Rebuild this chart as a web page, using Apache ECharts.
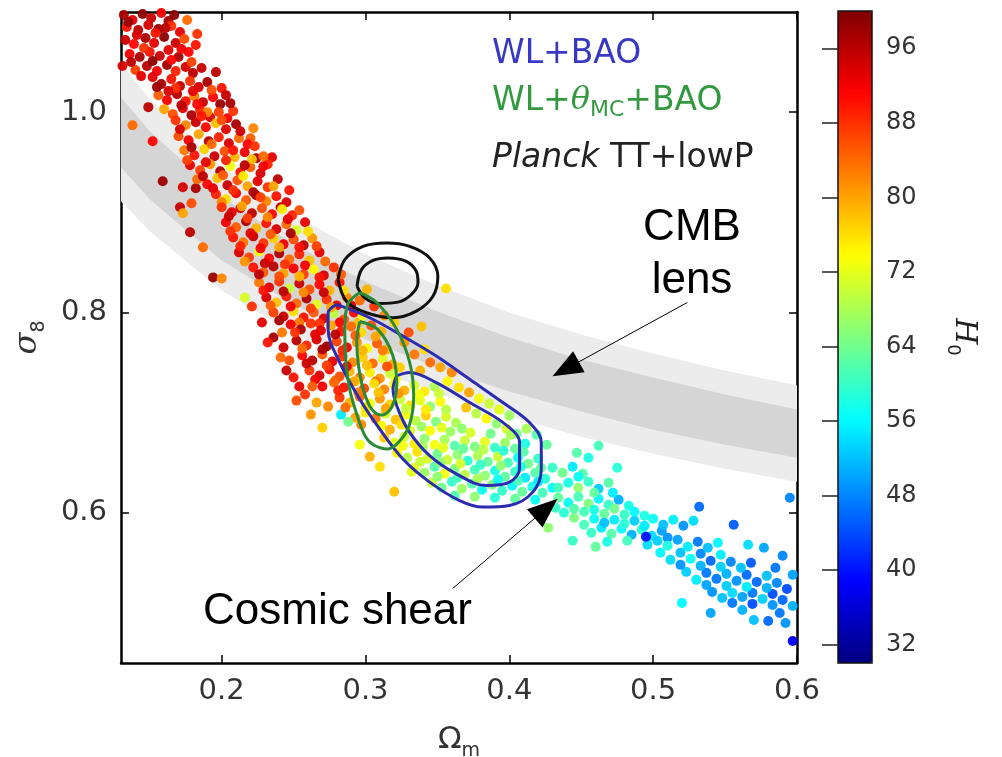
<!DOCTYPE html>
<html>
<head>
<meta charset="utf-8">
<script src="https://cdn.jsdelivr.net/npm/echarts@6/dist/echarts.min.js"></script>
<style>
  html, body { margin: 0; padding: 0; background: #fff; }
  #main { width: 1002px; height: 757px; }
</style>
</head>
<body>
<div id="main"></div>
<script>
// ---- axis ticks ----
const xTicks = [0.2, 0.3, 0.4, 0.5, 0.6];
const yTicks = [0.6, 0.8, 1.0];
const h0Ticks = [32, 40, 48, 56, 64, 72, 80, 88, 96];

// ---- CMB lensing band (sigma8 edges at each Omega_m) ----
const bandX        = [0.13, 0.15, 0.2, 0.25, 0.3, 0.35, 0.4, 0.45, 0.5, 0.55, 0.6];
const lensOuterTop = [1.049, 1.013, 0.946, 0.897, 0.858, 0.827, 0.800, 0.778, 0.759, 0.742, 0.727];
const lensInnerTop = [1.015, 0.981, 0.916, 0.868, 0.831, 0.801, 0.775, 0.753, 0.735, 0.718, 0.703];
const lensInnerBot = [0.945, 0.913, 0.852, 0.808, 0.773, 0.745, 0.721, 0.701, 0.683, 0.668, 0.655];
const lensOuterBot = [0.911, 0.881, 0.822, 0.779, 0.746, 0.719, 0.696, 0.676, 0.659, 0.644, 0.631];

// ---- contours [Omega_m, sigma8] ----
const planckOuter = [[0.2809,0.8328],[0.2856,0.8527],[0.2983,0.866],[0.3145,0.8694],[0.3307,0.866],[0.3446,0.8544],[0.3503,0.8361],[0.3469,0.8162],[0.3353,0.8013],[0.3191,0.7947],[0.3006,0.7997],[0.2867,0.8112],[0.2809,0.8328]];
const planckInner = [[0.2941,0.8262],[0.2972,0.8428],[0.3052,0.852],[0.3156,0.8544],[0.3284,0.851],[0.3353,0.8411],[0.3365,0.8296],[0.3319,0.8179],[0.3226,0.8103],[0.3099,0.809],[0.2994,0.8146],[0.2941,0.8262]];
const wlBaoOuter = [[0.2798,0.808],[0.3029,0.7947],[0.326,0.7764],[0.3492,0.7565],[0.3724,0.7333],[0.3955,0.7101],[0.414,0.6902],[0.4222,0.6703],[0.4222,0.6438],[0.4163,0.6206],[0.4001,0.6073],[0.3816,0.6057],[0.3654,0.6122],[0.3446,0.6306],[0.326,0.6537],[0.3099,0.6836],[0.296,0.7134],[0.2821,0.75],[0.274,0.7831],[0.274,0.7997],[0.2798,0.808]];
const wlBaoInner = [[0.3215,0.7366],[0.3307,0.74],[0.3492,0.73],[0.3724,0.7101],[0.3955,0.6902],[0.4071,0.6703],[0.4071,0.6438],[0.4001,0.6306],[0.384,0.6272],[0.3631,0.6388],[0.3446,0.657],[0.3307,0.6803],[0.3226,0.7035],[0.3191,0.7234],[0.3215,0.7366]];
const wlThetaOuter = [[0.296,0.8199],[0.3078,0.81],[0.3217,0.7831],[0.3307,0.7502],[0.3335,0.7164],[0.3307,0.6886],[0.3238,0.6716],[0.3154,0.6637],[0.3057,0.6677],[0.3001,0.6756],[0.2946,0.6955],[0.289,0.7234],[0.2863,0.7532],[0.2856,0.7831],[0.2876,0.808],[0.296,0.8199]];
const wlThetaInner = [[0.296,0.791],[0.3085,0.7831],[0.3189,0.7572],[0.3217,0.7284],[0.3182,0.7055],[0.3113,0.6975],[0.3043,0.7035],[0.2988,0.7214],[0.2953,0.7453],[0.2939,0.7711],[0.296,0.791]];

// ---- arrows [from, to] ----
const arrowLens  = [[0.5238, 0.810], [0.4392, 0.7435]];
const arrowShear = [[0.3606, 0.5244], [0.4256, 0.6042]];

// ---- samples [Omega_m, sigma8, H0] ----
const ptsTop = [[0.132,1.097,97],[0.138,1.092,93],[0.145,1.098,99],[0.151,1.094,95],[0.158,1.099,92],[0.163,1.091,97],[0.134,1.085,90],[0.142,1.082,96],[0.149,1.087,94],[0.156,1.083,98],[0.165,1.086,88],[0.171,1.08,93],[0.133,1.072,95],[0.139,1.068,91],[0.147,1.074,97],[0.153,1.069,93],[0.16,1.075,99],[0.168,1.069,95],[0.174,1.073,86],[0.136,1.058,92],[0.143,1.055,97],[0.15,1.06,90],[0.157,1.056,95],[0.163,1.062,93],[0.17,1.055,97],[0.177,1.06,91],[0.131,1.046,94],[0.14,1.042,87],[0.148,1.046,96],[0.155,1.041,92],[0.162,1.047,98],[0.168,1.041,89],[0.175,1.045,94],[0.18,1.039,96],[0.176,1.092,84],[0.183,1.078,88],
  [0.135,1.09,98],[0.141,1.077,94],[0.154,1.079,90],[0.161,1.084,96],[0.167,1.097,99],[0.172,1.063,92],[0.146,1.064,88],[0.137,1.05,96],[0.152,1.051,99],[0.165,1.052,91],[0.179,1.05,87],[0.144,1.036,93],[0.186,1.044,95],[0.182,1.067,90],
  [0.152,1.035,93],[0.158,1.028,97],[0.165,1.033,90],[0.171,1.026,95],[0.178,1.031,88],[0.184,1.025,94],[0.19,1.03,97],[0.156,1.017,85],[0.162,1.012,92],[0.169,1.018,96],[0.175,1.011,90],[0.181,1.016,83],[0.187,1.01,95],[0.194,1.015,91],[0.199,1.008,98],[0.16,1.003,80],[0.166,0.998,86],[0.173,1.004,93],[0.179,0.997,97],[0.185,1.002,89],[0.192,0.995,94],[0.198,1.0,87],[0.204,0.994,92],[0.2,1.024,90],[0.196,1.04,96],
  [0.155,1.025,98],[0.168,1.024,88],[0.18,1.021,93],[0.193,1.022,86],[0.172,1.007,96],[0.183,1.008,91],[0.19,1.0,82],[0.203,1.017,95],[0.208,1.001,88],[0.163,1.021,94],
  [0.149,1.005,96],[0.138,0.987,84],[0.152,0.971,91],[0.206,1.009,97],[0.159,0.931,98],[0.173,0.925,94],[0.182,0.924,97],[0.171,0.905,95],[0.179,0.909,86],[0.173,0.899,80],[0.235,0.955,93],[0.222,0.984,82],[0.22,0.974,85],[0.224,0.954,97]];
const ptsUpper = [[0.168,0.992,88],[0.175,0.987,82],[0.182,0.99,95],[0.189,0.985,91],[0.196,0.989,78],[0.203,0.983,93],[0.21,0.988,97],[0.17,0.976,86],[0.177,0.972,92],[0.184,0.978,80],[0.191,0.971,96],[0.198,0.975,89],[0.205,0.969,94],[0.212,0.974,84],[0.218,0.968,91],[0.174,0.962,83],[0.181,0.957,90],[0.188,0.963,77],[0.195,0.956,95],[0.202,0.961,86],[0.209,0.955,79],[0.216,0.96,92],[0.223,0.966,88],[0.178,0.947,93],[0.185,0.942,87],[0.192,0.948,81],[0.199,0.941,97],[0.206,0.946,73],[0.213,0.94,90],[0.22,0.945,85],[0.227,0.939,94],[0.232,0.948,89],[0.183,0.933,84],[0.19,0.928,91],[0.197,0.934,78],[0.204,0.927,95],[0.211,0.932,86],[0.218,0.926,80],[0.225,0.931,93],[0.232,0.925,88],[0.239,0.933,96],[0.196,0.918,89],[0.203,0.913,76],[0.21,0.919,92],[0.217,0.912,85],[0.224,0.917,97],[0.231,0.911,82],[0.238,0.916,90],[0.245,0.91,94],
  [0.171,0.983,94],[0.186,0.996,90],[0.2,0.992,86],[0.213,0.981,95],[0.179,0.965,97],[0.193,0.968,84],[0.208,0.962,90],[0.221,0.953,78],[0.176,0.952,87],[0.189,0.95,93],[0.203,0.952,89],[0.216,0.947,96],[0.229,0.956,84],[0.187,0.936,96],[0.201,0.937,85],[0.215,0.936,75],[0.229,0.946,92],[0.194,0.924,93],[0.208,0.922,88],[0.222,0.92,97],[0.236,0.926,80],[0.2,0.91,82],[0.213,0.904,94],[0.227,0.915,87],[0.241,0.905,96],[0.247,0.922,90],
  [0.2,0.905,88],[0.207,0.9,93],[0.214,0.906,80],[0.221,0.899,96],[0.228,0.904,86],[0.235,0.898,91],[0.242,0.903,75],[0.249,0.897,89],[0.203,0.89,92],[0.21,0.885,85],[0.217,0.891,97],[0.224,0.884,79],[0.231,0.889,90],[0.238,0.883,94],[0.245,0.888,84],[0.252,0.882,71],[0.258,0.89,93],[0.208,0.875,90],[0.215,0.87,83],[0.222,0.876,95],[0.229,0.869,88],[0.236,0.874,77],[0.243,0.868,92],[0.25,0.873,86],[0.257,0.867,96],[0.263,0.874,81],[0.212,0.86,94],[0.219,0.855,87],[0.226,0.861,73],[0.233,0.854,91],[0.24,0.859,97],[0.247,0.853,84],[0.254,0.858,89],[0.261,0.852,78],[0.268,0.86,93],[0.178,0.88,96],[0.187,0.865,84],[0.194,0.835,98],[0.2,0.834,82],
  [0.205,0.896,95],[0.218,0.894,87],[0.232,0.895,82],[0.246,0.893,93],[0.254,0.902,86],[0.206,0.881,88],[0.22,0.879,93],[0.234,0.878,85],[0.248,0.879,97],[0.26,0.881,76],[0.213,0.866,89],[0.227,0.864,92],[0.24,0.865,80],[0.254,0.865,90],[0.266,0.866,87],[0.216,0.851,81],[0.23,0.849,95],[0.244,0.848,88],[0.258,0.847,92],[0.272,0.851,84]];
const ptsMiddle = [[0.222,0.845,90],[0.229,0.84,85],[0.236,0.846,96],[0.243,0.839,80],[0.25,0.844,92],[0.257,0.838,87],[0.264,0.843,74],[0.271,0.837,94],[0.278,0.845,88],[0.226,0.83,83],[0.233,0.825,93],[0.24,0.831,88],[0.247,0.824,70],[0.254,0.829,95],[0.261,0.823,86],[0.268,0.828,91],[0.275,0.822,79],[0.282,0.83,90],[0.231,0.815,94],[0.238,0.81,78],[0.245,0.816,89],[0.252,0.809,84],[0.259,0.814,97],[0.266,0.808,72],[0.273,0.813,88],[0.28,0.807,93],[0.287,0.815,82],[0.236,0.8,87],[0.243,0.796,95],[0.25,0.801,76],[0.257,0.795,90],[0.264,0.8,85],[0.271,0.794,94],[0.278,0.799,69],[0.285,0.793,86],[0.292,0.8,91],[0.216,0.815,71],[0.221,0.806,88],
  [0.226,0.838,96],[0.24,0.836,86],[0.254,0.836,79],[0.268,0.835,90],[0.283,0.838,85],[0.229,0.822,90],[0.243,0.821,96],[0.257,0.82,82],[0.271,0.82,95],[0.285,0.822,76],[0.234,0.807,85],[0.248,0.806,92],[0.262,0.804,87],[0.276,0.805,80],[0.29,0.807,93],[0.24,0.792,97],[0.254,0.79,83],[0.268,0.789,88],[0.282,0.79,91],[0.295,0.79,78],
  [0.296,0.812,84],[0.301,0.823,79],[0.306,0.806,88],[0.298,0.797,73],[0.313,0.797,82],[0.32,0.79,77],[0.356,0.824,76],[0.339,0.786,78],
  [0.228,0.79,93],[0.236,0.775,97],[0.241,0.755,84],[0.25,0.735,90],[0.258,0.718,88],[0.266,0.71,80],
  [0.232,0.77,90],[0.245,0.742,95],[0.252,0.712,86],[0.262,0.698,81],[0.27,0.685,77],[0.242,0.78,83],
  [0.248,0.788,92],[0.255,0.783,97],[0.262,0.789,88],[0.269,0.782,93],[0.276,0.787,80],[0.283,0.781,90],[0.29,0.786,84],[0.297,0.78,76],[0.304,0.787,86],[0.311,0.781,79],[0.252,0.772,96],[0.259,0.767,89],[0.266,0.773,94],[0.273,0.766,98],[0.28,0.771,87],[0.287,0.765,92],[0.294,0.77,81],[0.301,0.764,74],[0.308,0.769,85],[0.315,0.763,78],[0.256,0.757,91],[0.263,0.752,96],[0.27,0.758,85],[0.277,0.751,93],[0.284,0.756,88],[0.291,0.75,82],[0.298,0.755,77],[0.305,0.749,84],[0.312,0.754,72],[0.319,0.748,80],[0.261,0.742,88],[0.268,0.737,94],[0.275,0.743,90],[0.282,0.736,86],[0.289,0.741,79],[0.296,0.735,83],[0.303,0.74,75],[0.31,0.734,81],[0.317,0.739,70],[0.324,0.745,77],[0.243,0.765,95],[0.247,0.752,86],
  [0.251,0.78,88],[0.265,0.778,93],[0.279,0.778,96],[0.293,0.777,85],[0.307,0.776,80],[0.256,0.764,84],[0.27,0.763,97],[0.284,0.762,89],[0.298,0.762,79],[0.312,0.762,83],[0.259,0.749,95],[0.273,0.747,87],[0.287,0.746,93],[0.301,0.747,78],[0.315,0.746,86],[0.265,0.733,92],[0.279,0.732,85],[0.293,0.731,76],[0.307,0.731,84],[0.321,0.733,73]];
const ptsLower = [[0.278,0.73,84],[0.285,0.725,90],[0.292,0.731,80],[0.299,0.724,87],[0.306,0.729,76],[0.313,0.723,82],[0.32,0.728,74],[0.327,0.722,79],[0.334,0.727,71],[0.341,0.721,75],[0.348,0.726,68],[0.282,0.715,88],[0.289,0.71,79],[0.296,0.716,85],[0.303,0.709,73],[0.31,0.714,81],[0.317,0.708,77],[0.324,0.713,70],[0.331,0.707,76],[0.338,0.712,72],[0.345,0.706,66],[0.352,0.711,74],[0.293,0.695,80],[0.3,0.7,75],[0.307,0.694,83],[0.314,0.699,71],[0.321,0.693,78],[0.328,0.698,73],[0.335,0.692,69],[0.342,0.697,77],[0.349,0.691,65],[0.356,0.696,71],[0.363,0.69,68],[0.254,0.726,93],[0.263,0.726,85],[0.27,0.726,92],[0.274,0.706,82],[0.283,0.698,55],[0.288,0.691,64],
  [0.281,0.722,89],[0.295,0.72,83],[0.309,0.72,78],[0.323,0.719,81],[0.337,0.718,73],[0.351,0.719,70],[0.286,0.705,84],[0.3,0.705,76],[0.314,0.704,80],[0.328,0.704,70],[0.342,0.703,75],[0.356,0.703,69],[0.297,0.688,82],[0.311,0.687,74],[0.325,0.688,76],[0.339,0.686,67],[0.353,0.685,72],[0.367,0.684,66],
  [0.365,0.725,76],[0.372,0.72,80],[0.379,0.714,73],[0.386,0.709,70],[0.37,0.705,78],[0.377,0.699,69],[0.384,0.694,74],[0.391,0.689,66],[0.398,0.684,71],[0.405,0.679,64],[0.412,0.684,68],[0.419,0.678,62],[0.36,0.74,82],[0.352,0.745,80],[0.345,0.75,84],[0.338,0.742,79],[0.334,0.758,83],[0.341,0.763,76],[0.327,0.77,81],[0.33,0.78,86],[0.357,0.731,74],[0.393,0.703,72],[0.4,0.697,67],[0.426,0.668,63],
  [0.313,0.675,77],[0.32,0.67,72],[0.327,0.676,70],[0.334,0.669,75],[0.341,0.674,66],[0.348,0.668,73],[0.355,0.673,68],[0.362,0.667,62],[0.369,0.672,70],[0.376,0.666,65],[0.383,0.671,72],[0.39,0.665,60],[0.397,0.67,67],[0.404,0.664,63],[0.411,0.669,58],[0.322,0.66,74],[0.329,0.655,69],[0.336,0.661,76],[0.343,0.654,71],[0.35,0.659,64],[0.357,0.653,70],[0.364,0.658,66],[0.371,0.652,59],[0.378,0.657,68],[0.385,0.651,63],[0.392,0.656,70],[0.399,0.65,61],[0.406,0.655,57],[0.413,0.649,64],[0.42,0.654,60],[0.334,0.645,72],[0.341,0.64,67],[0.348,0.646,62],[0.355,0.639,73],[0.362,0.644,65],[0.369,0.638,69],[0.376,0.643,61],[0.383,0.637,66],[0.39,0.642,58],[0.397,0.636,63],[0.404,0.641,60],[0.411,0.635,55],[0.418,0.64,62],[0.425,0.634,59],[0.346,0.63,70],[0.353,0.625,64],[0.36,0.631,60],[0.367,0.624,67],[0.374,0.629,62],[0.381,0.623,57],[0.388,0.628,65],[0.395,0.622,60],[0.402,0.627,56],[0.409,0.621,63],[0.416,0.626,58],[0.423,0.62,61],[0.43,0.625,56],
  [0.317,0.683,79],[0.331,0.682,71],[0.345,0.682,74],[0.359,0.681,67],[0.373,0.68,71],[0.387,0.679,64],[0.401,0.678,68],[0.326,0.667,73],[0.34,0.666,68],[0.354,0.665,72],[0.368,0.664,63],[0.382,0.663,69],[0.396,0.662,59],[0.41,0.661,62],[0.338,0.651,70],[0.352,0.65,66],[0.366,0.649,71],[0.38,0.648,60],[0.394,0.647,66],[0.408,0.646,58],[0.422,0.645,63],[0.35,0.636,66],[0.364,0.635,61],[0.378,0.634,68],[0.392,0.633,57],[0.406,0.632,61],[0.42,0.631,55],[0.362,0.617,62],[0.376,0.616,66],[0.39,0.615,59],[0.404,0.614,63],[0.418,0.613,57],[0.432,0.605,60],
  [0.31,0.646,76],[0.32,0.621,78],[0.332,0.641,72],[0.296,0.668,73],[0.303,0.656,79]];
const ptsTail = [[0.43,0.645,60],[0.437,0.64,64],[0.444,0.646,55],[0.451,0.639,62],[0.441,0.63,58],[0.448,0.625,66],[0.455,0.631,60],[0.462,0.624,53],[0.469,0.63,62],[0.434,0.615,63],[0.441,0.61,57],[0.448,0.616,61],[0.455,0.609,65],[0.462,0.614,56],[0.469,0.608,60],[0.476,0.613,51],[0.483,0.607,58],[0.438,0.6,59],[0.445,0.595,65],[0.452,0.601,61],[0.459,0.594,57],[0.466,0.599,63],[0.473,0.593,55],[0.48,0.598,60],[0.487,0.592,53],[0.494,0.597,58],[0.457,0.58,60],[0.464,0.585,55],[0.471,0.579,62],[0.478,0.584,57],[0.485,0.578,51],[0.492,0.583,59],[0.499,0.577,54],[0.506,0.582,50],[0.447,0.66,62],[0.455,0.655,58],[0.462,0.667,61],[0.475,0.645,59],[0.427,0.585,66],[0.42,0.6,64],[0.444,0.572,60],[0.46,0.566,63],
  [0.434,0.625,61],[0.448,0.636,57],[0.459,0.62,63],[0.472,0.62,55],[0.445,0.604,62],[0.459,0.603,58],[0.473,0.604,64],[0.487,0.601,56],[0.452,0.588,61],[0.466,0.59,52],[0.48,0.589,59],[0.494,0.587,55],[0.468,0.571,58],[0.482,0.572,61],[0.496,0.568,54],[0.51,0.575,49],[0.505,0.56,56],[0.519,0.56,52],[0.533,0.559,48],[0.547,0.558,55],[0.523,0.541,53],[0.537,0.54,47],[0.551,0.539,51],[0.565,0.538,46],[0.579,0.537,52],[0.541,0.521,49],[0.555,0.52,54],[0.569,0.52,47],[0.583,0.519,44],[0.597,0.538,50],[0.562,0.503,51],[0.58,0.492,46],[0.592,0.49,49],
  [0.5,0.594,57],[0.507,0.588,52],[0.514,0.593,55],[0.521,0.587,49],[0.528,0.592,54],[0.503,0.572,53],[0.51,0.567,58],[0.517,0.573,50],[0.524,0.566,55],[0.531,0.571,47],[0.538,0.565,52],[0.545,0.57,56],[0.512,0.553,54],[0.519,0.548,49],[0.526,0.554,57],[0.533,0.547,51],[0.54,0.552,46],[0.547,0.546,53],[0.554,0.551,48],[0.561,0.545,52],[0.568,0.55,45],[0.53,0.533,55],[0.537,0.528,50],[0.544,0.534,47],[0.551,0.527,53],[0.558,0.532,49],[0.565,0.526,55],[0.572,0.531,46],[0.579,0.525,51],[0.586,0.53,48],[0.593,0.524,44],[0.548,0.515,52],[0.555,0.51,47],[0.562,0.516,50],[0.569,0.509,44],[0.576,0.514,53],[0.583,0.508,49],[0.59,0.513,46],[0.597,0.507,51],[0.495,0.576,40],[0.532,0.606,46],[0.556,0.588,45],[0.54,0.5,50],[0.59,0.557,48],[0.597,0.472,38],[0.595,0.615,48],[0.577,0.565,50],[0.585,0.545,47],[0.566,0.568,54],[0.52,0.51,56],[0.57,0.493,52],[0.588,0.5,47]];

const jet = ['#00007f', '#0000ff', '#007fff', '#00ffff', '#7fff7f', '#ffff00', '#ff7f00', '#ff0000', '#7f0000'];

const chart = echarts.init(document.getElementById('main'), null, { renderer: 'canvas' });

function band(top, bot, color, z) {
  return {
    type: 'custom',
    xAxisIndex: 0,
    yAxisIndex: 0,
    silent: true,
    z: z,
    clip: true,
    data: [[0.3, 0.8]],
    renderItem: function (params, api) {
      const pts = [];
      for (let i = 0; i < bandX.length; i++) pts.push(api.coord([bandX[i], top[i]]));
      for (let i = bandX.length - 1; i >= 0; i--) pts.push(api.coord([bandX[i], bot[i]]));
      return { type: 'polygon', shape: { points: pts }, style: { fill: color } };
    }
  };
}

function contour(data, color) {
  return {
    type: 'line',
    xAxisIndex: 0,
    yAxisIndex: 0,
    data: data,
    smooth: 0.35,
    showSymbol: false,
    silent: true,
    z: 5,
    lineStyle: { color: color, width: 3 }
  };
}

const labelFont = 'DejaVu Sans';
const tickStyle = { show: true, inside: true, length: 8, lineStyle: { color: '#000', width: 1.5 } };

const option = {
  animation: false,
  backgroundColor: '#fff',
  grid: [
    { left: 121, top: 12, width: 676, height: 651, outerBoundsMode: 'none', containLabel: false },
    { left: 838, top: 11, width: 34, height: 652, show: true, z: 10, outerBoundsMode: 'none', containLabel: false,
      backgroundColor: 'transparent', borderColor: '#111', borderWidth: 1.5 }
  ],
  xAxis: [
    { type: 'value', gridIndex: 0, min: 0.13, max: 0.6, position: 'bottom',
      name: '{a|Ω}{b|m}', nameLocation: 'middle', nameGap: 56,
      nameTextStyle: { rich: {
        a: { fontFamily: labelFont, fontSize: 31, color: '#333', verticalAlign: 'middle', lineHeight: 42 },
        b: { fontFamily: labelFont, fontSize: 19, color: '#333', verticalAlign: 'bottom', lineHeight: 42 }
      } },
      axisLine: { lineStyle: { color: '#000', width: 2.5 } },
      axisTick: Object.assign({ customValues: xTicks }, tickStyle),
      axisLabel: { customValues: xTicks, formatter: v => v.toFixed(1), fontFamily: labelFont, fontSize: 29, color: '#333', margin: 14 },
      splitLine: { show: false } },
    { type: 'value', gridIndex: 0, min: 0.13, max: 0.6, position: 'top',
      axisLine: { lineStyle: { color: '#000', width: 2.5 } },
      axisTick: Object.assign({ customValues: xTicks }, tickStyle),
      axisLabel: { show: false }, splitLine: { show: false } },
    { type: 'value', gridIndex: 1, min: 0, max: 1, show: false }
  ],
  yAxis: [
    { type: 'value', gridIndex: 0, min: 0.45, max: 1.1, position: 'left',
      name: '{a|σ}{b|8}', nameLocation: 'middle', nameGap: 72, nameRotate: 90,
      nameTextStyle: { rich: {
        a: { fontFamily: 'DejaVu Serif', fontStyle: 'italic', fontSize: 32, color: '#333', verticalAlign: 'middle', lineHeight: 42 },
        b: { fontFamily: labelFont, fontSize: 19, color: '#333', verticalAlign: 'bottom', lineHeight: 42 }
      } },
      axisLine: { lineStyle: { color: '#000', width: 2.5 } },
      axisTick: Object.assign({ customValues: yTicks }, tickStyle),
      axisLabel: { customValues: yTicks, formatter: v => v.toFixed(1), fontFamily: labelFont, fontSize: 29, color: '#333', margin: 14 },
      splitLine: { show: false } },
    { type: 'value', gridIndex: 0, min: 0.45, max: 1.1, position: 'right',
      axisLine: { lineStyle: { color: '#000', width: 2.5 } },
      axisTick: Object.assign({ customValues: yTicks }, tickStyle),
      axisLabel: { show: false }, splitLine: { show: false } },
    { type: 'value', gridIndex: 1, min: 30, max: 100, position: 'right', z: 11,
      name: '{a|H}{b|0}', nameLocation: 'middle', nameGap: 72, nameRotate: -90,
      nameTextStyle: { rich: {
        a: { fontFamily: 'DejaVu Serif', fontStyle: 'italic', fontSize: 30, color: '#222', verticalAlign: 'middle', lineHeight: 40 },
        b: { fontFamily: labelFont, fontSize: 18, color: '#222', verticalAlign: 'bottom', lineHeight: 40 }
      } },
      axisLine: { show: false },
      axisTick: { show: true, inside: true, length: 16, customValues: h0Ticks, lineStyle: { color: '#222', width: 1.5 } },
      axisLabel: { customValues: h0Ticks, fontFamily: labelFont, fontSize: 24, color: '#333', margin: 14 },
      splitLine: { show: false } }
  ],
  visualMap: {
    type: 'continuous',
    min: 30, max: 100,
    dimension: 2,
    seriesIndex: 2,
    orient: 'vertical',
    left: 838, top: 11,
    itemWidth: 34, itemHeight: 652,
    padding: 0,
    calculable: false,
    hoverLink: false,
    inRange: { color: jet }
  },
  series: [
    band(lensOuterTop, lensOuterBot, '#ececec', 1),
    band(lensInnerTop, lensInnerBot, '#d5d5d5', 2),
    { type: 'scatter', xAxisIndex: 0, yAxisIndex: 0, z: 3, silent: true,
      symbolSize: 10, itemStyle: { opacity: 0.95 },
      data: [].concat(ptsTop, ptsUpper, ptsMiddle, ptsLower, ptsTail) },
    contour(planckOuter, '#111'),
    contour(planckInner, '#111'),
    contour(wlBaoOuter, '#2c2cb0'),
    contour(wlBaoInner, '#2c2cb0'),
    contour(wlThetaOuter, '#2b8a35'),
    contour(wlThetaInner, '#2b8a35'),
    { type: 'line', xAxisIndex: 0, yAxisIndex: 0, data: [], z: 6, silent: true,
      markLine: {
        silent: true, animation: false,
        symbol: ['none', 'triangle'], symbolSize: [24, 30],
        label: { show: false },
        lineStyle: { color: '#000', width: 1, type: 'solid' },
        data: [
          [{ coord: arrowLens[0] }, { coord: arrowLens[1] }],
          [{ coord: arrowShear[0] }, { coord: arrowShear[1] }]
        ]
      } }
  ],
  graphic: [
    { type: 'text', z: 20, style: { x: 492, y: 54, text: 'WL+BAO', fill: '#3838c4',
        font: '33px "DejaVu Sans"', textVerticalAlign: 'middle' } },
    { type: 'text', z: 20, style: { x: 492, y: 101, text: '{a|WL+}{t|θ}{s|MC}{a|+BAO}', fill: '#339940',
        textVerticalAlign: 'middle',
        rich: {
          a: { fontFamily: 'DejaVu Sans', fontSize: 33, fill: '#339940', lineHeight: 40, verticalAlign: 'middle' },
          t: { fontFamily: 'DejaVu Serif', fontStyle: 'italic', fontSize: 32, fill: '#339940', lineHeight: 40, verticalAlign: 'middle' },
          s: { fontFamily: 'DejaVu Sans', fontSize: 22, fill: '#339940', lineHeight: 40, verticalAlign: 'bottom' }
        } } },
    { type: 'text', z: 20, style: { x: 492, y: 158, text: '{i|Planck }{n|TT+lowP}', fill: '#222',
        textVerticalAlign: 'middle',
        rich: {
          i: { fontFamily: 'DejaVu Sans', fontStyle: 'italic', fontSize: 33, fill: '#222' },
          n: { fontFamily: 'DejaVu Sans', fontSize: 33, fill: '#222' }
        } } },
    { type: 'text', z: 20, style: { x: 692, y: 228, text: 'CMB', fill: '#000',
        font: '44px "Liberation Sans"', textAlign: 'center', textVerticalAlign: 'middle' } },
    { type: 'text', z: 20, style: { x: 692, y: 281, text: 'lens', fill: '#000',
        font: '44px "Liberation Sans"', textAlign: 'center', textVerticalAlign: 'middle' } },
    { type: 'text', z: 20, style: { x: 203, y: 612, text: 'Cosmic shear', fill: '#000',
        font: '44px "Liberation Sans"', textVerticalAlign: 'middle' } }
  ]
};

chart.setOption(option);
</script>
</body>
</html>
